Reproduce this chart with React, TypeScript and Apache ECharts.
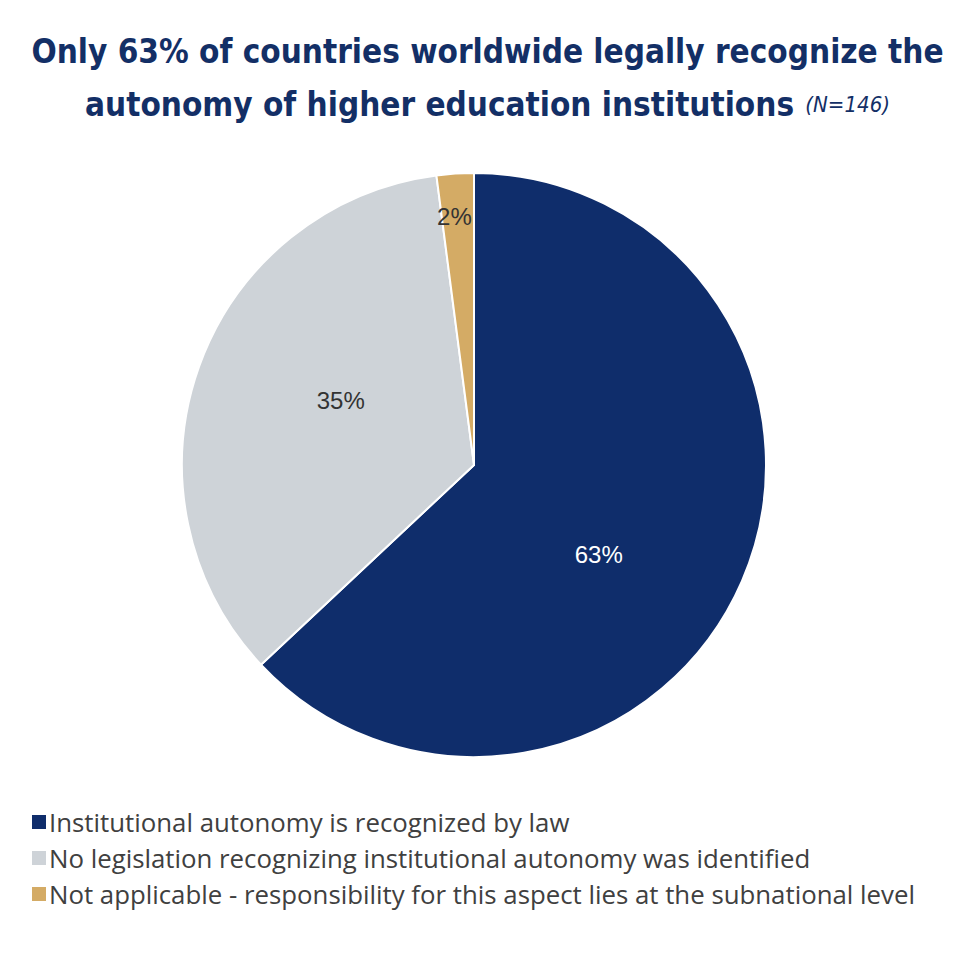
import React, { useEffect, useRef } from "react";
import * as echarts from "echarts";

const categories = [
  "Institutional autonomy is recognized by law",
  "No legislation recognizing institutional autonomy was identified",
  "Not applicable - responsibility for this aspect lies at the subnational level",
];
const counts = [92, 51, 3];
const percentLabels = ["63%", "35%", "2%"];
const colors = ["#0f2d6b", "#ced3d8", "#d4ab65"];
const labelColors = ["#ffffff", "#333333", "#333333"];
const labelShift = [
  { dx: -12, dy: 30 },
  { dx: 7, dy: -14 },
  { dx: -10, dy: -100 },
];

export default function App() {
  const ref = useRef<HTMLDivElement>(null);
  useEffect(() => {
    if (!ref.current) return;
    const chart = echarts.init(ref.current, null, { renderer: "svg" });
    chart.setOption({
      animation: false,
      backgroundColor: "#ffffff",
      title: {
        left: "center",
        top: 20,
        text:
          "{a|Only 63% of countries worldwide legally recognize the}\n{a|autonomy of higher education institutions} {b| (N=146)}",
        textStyle: {
          rich: {
            a: {
              fontFamily: "'Liberation Sans Narrow', 'DejaVu Sans Condensed', Roboto, sans-serif",
              fontWeight: "bold",
              fontSize: 33,
              color: "#132f66",
              lineHeight: 53,
            },
            b: {
              fontFamily: "'Liberation Sans Narrow', 'DejaVu Sans Condensed', Roboto, sans-serif",
              fontStyle: "italic",
              fontWeight: "normal",
              fontSize: 22,
              color: "#132f66",
              lineHeight: 53,
            },
          },
        },
      },
      legend: {
        orient: "vertical",
        left: 25,
        top: 804,
        itemWidth: 16,
        itemHeight: 16,
        itemGap: 10,
        icon: "rect",
        textStyle: {
          fontFamily: "'Open Sans', Lato, sans-serif",
          fontSize: 25.8,
          color: "#404040",
          padding: [0, 0, 0, -3],
        },
        data: categories,
      },
      series: [
        {
          type: "pie",
          center: [474, 465],
          radius: [0, 292],
          startAngle: 90,
          clockwise: true,
          itemStyle: { borderColor: "#ffffff", borderWidth: 2 },
          label: {
            show: true,
            position: "inside",
            fontFamily: "'Liberation Sans', Arial, sans-serif",
            fontSize: 24,
          },
          labelLayout: (p: any) => labelShift[p.dataIndex],
          emphasis: { disabled: true },
          data: categories.map((name, i) => ({
            name,
            value: counts[i],
            itemStyle: { color: colors[i] },
            label: { formatter: percentLabels[i], color: labelColors[i] },
          })),
        },
      ],
    });
    return () => chart.dispose();
  }, []);
  return (
    <div
      ref={ref}
      style={{ position: "fixed", left: 0, top: 0, width: 975, height: 953 }}
    />
  );
}
